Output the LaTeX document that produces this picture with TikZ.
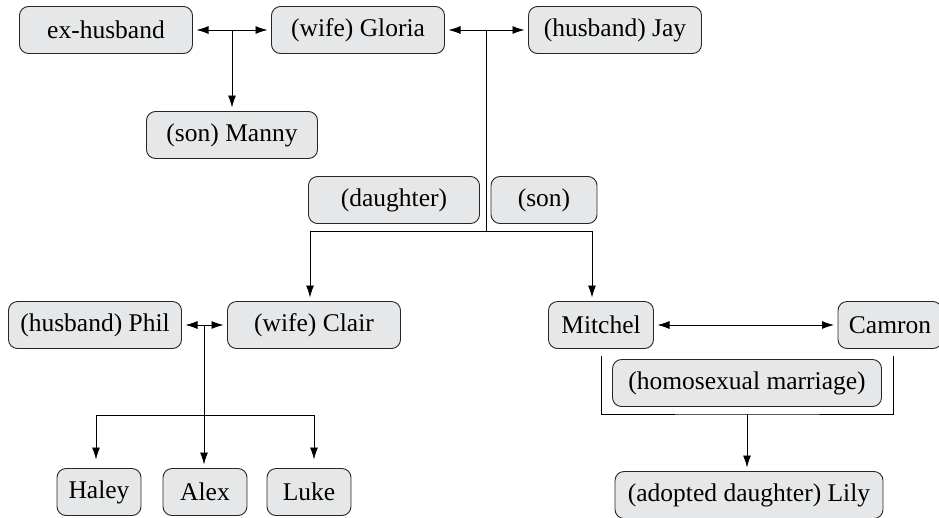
\documentclass[tikz,border=0pt]{standalone}
\usepackage{fontspec}
\setmainfont{Liberation Serif}
\usetikzlibrary{arrows.meta}
\definecolor{boxgray}{RGB}{230,231,232}
\tikzset{>={Latex[width=8pt,length=12pt]}}
\tikzset{fambox/.style={shape=rectangle,draw=black!85,line width=0.9pt,rounded corners=9pt,fill=boxgray,minimum height=47pt,inner sep=0pt,outer sep=4pt,font=\fontsize{25.5}{30}\selectfont}}

\begin{document}
\begin{tikzpicture}[line width=0.9pt]

\useasboundingbox (0pt,0pt) rectangle (939pt,-517pt);

\path (106pt,-30pt) node (exh) [fambox,minimum width=173pt]{ex-husband};

\path (358pt,-30pt) node (gloria) [fambox,minimum width=173pt]{(wife) Gloria};

\path (615pt,-30pt) node (jay) [fambox,minimum width=173pt]{(husband) Jay};

\path (232pt,-135pt) node (manny) [fambox,minimum width=171pt]{(son) Manny};

\path (394pt,-200pt) node (daughter) [fambox,minimum width=171pt]{(daughter)};

\path (544pt,-200pt) node (son) [fambox,minimum width=106pt]{(son)};

\path (95pt,-325pt) node (phil) [fambox,minimum width=173pt]{(husband) Phil};

\path (314pt,-325pt) node (clair) [fambox,minimum width=173pt]{(wife) Clair};

\path (601pt,-325pt) node (mitchel) [fambox,minimum width=105pt]{Mitchel};

\path (890pt,-325pt) node (camron) [fambox,minimum width=104pt]{Camron};

\path (747pt,-383pt) node (marriage) [fambox,minimum width=269pt]{(homosexual marriage)};

\path (99pt,-492pt) node (haley) [fambox,minimum width=84pt]{Haley};

\path (205pt,-492pt) node (alex) [fambox,minimum width=84pt]{Alex};

\path (309pt,-492pt) node (luke) [fambox,minimum width=84pt]{Luke};

\path (749pt,-495pt) node (lily) [fambox,minimum width=268pt]{(adopted daughter) Lily};

\coordinate (j1) at (232pt,-30pt);
\coordinate (j2) at (486pt,-30pt);
\coordinate (j3) at (486pt,-231pt);
\coordinate (j4) at (204pt,-325pt);
\coordinate (j5) at (204pt,-415pt);
\coordinate (j6) at (747pt,-414pt);

\draw[<->] (exh) -- (gloria);
\draw[->] (j1) -- (manny);
\draw[<->] (gloria) -- (jay);
\draw (j2) -- (j3);
\draw[->] (j3) -| ([xshift=-4pt]clair.north);
\draw[->] (j3) -| ([xshift=-9pt]mitchel.north);

\draw[<->] (phil) -- (clair);
\draw[->] (j4) -- (alex.north -| j4);
\draw[->,shorten >=5pt] (j5) -| ([xshift=-3pt]haley.north);
\draw[->,shorten >=5pt] (j5) -| ([xshift=5pt]luke.north);

\draw[<->] (mitchel) -- (camron);
\draw ([yshift=-3pt]mitchel.south) |- (j6) -| ([xshift=3pt,yshift=-3pt]camron.south);
\draw[->] (j6) -- (lily.north -| j6);

\end{tikzpicture}
\end{document}
